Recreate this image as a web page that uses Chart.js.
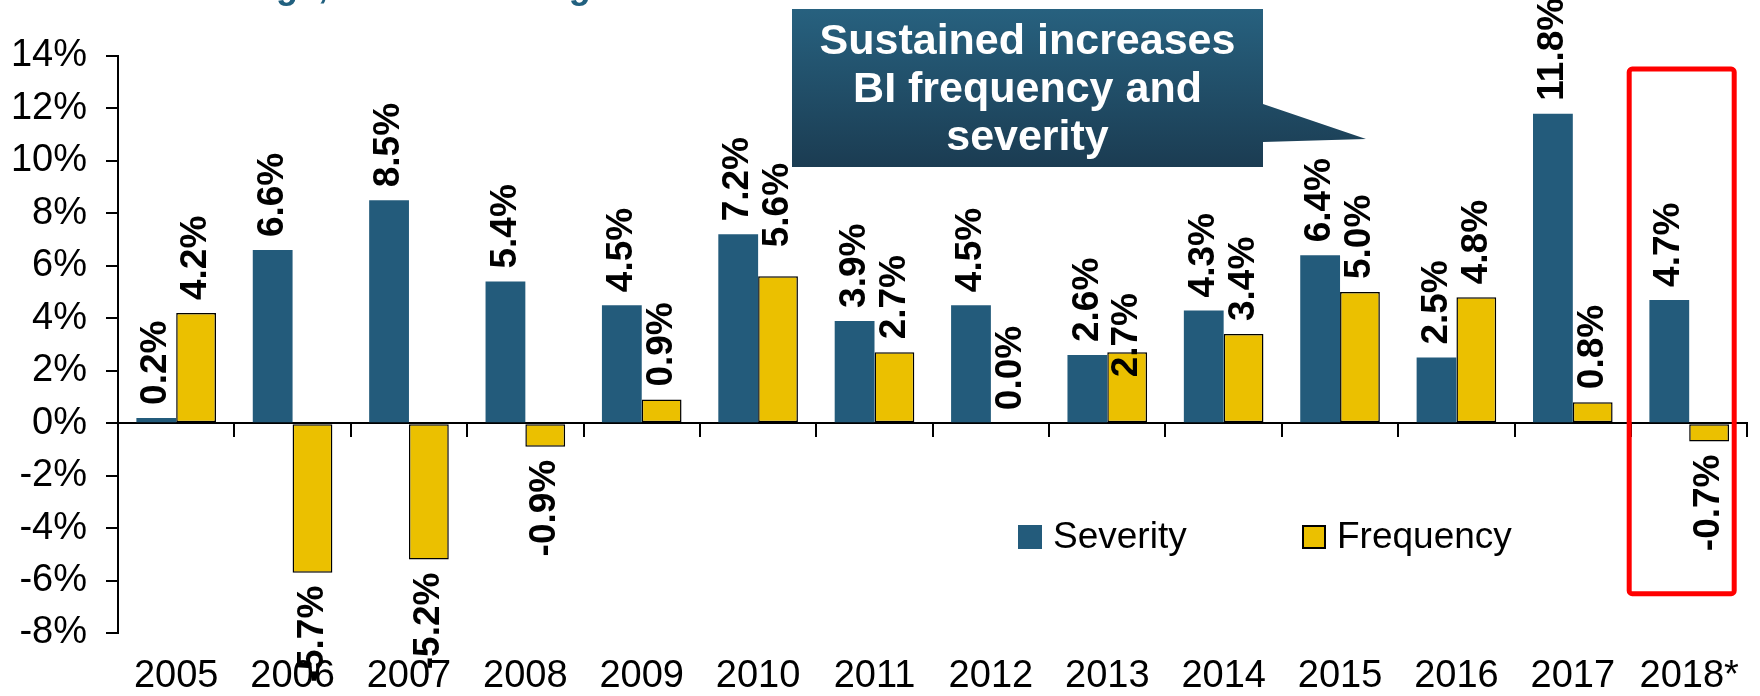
<!DOCTYPE html>
<html>
<head>
<meta charset="utf-8">
<title>BI severity and frequency</title>
<script src="https://cdn.jsdelivr.net/npm/chart.js@4.4.1/dist/chart.umd.min.js"></script>
<style>
    body { margin: 0; background: #fff; }
    #chart_container { width: 1760px; height: 696px; }
</style>
</head>
<body>
<div id="chart_container"><canvas id="canvas1" width="1760" height="696"></canvas></div>
<script>
const years = ['2005', '2006', '2007', '2008', '2009', '2010', '2011', '2012', '2013', '2014', '2015', '2016', '2017', '2018*']
const severity = [0.2, 6.6, 8.5, 5.4, 4.5, 7.2, 3.9, 4.5, 2.6, 4.3, 6.4, 2.5, 11.8, 4.7]
const frequency = [4.2, -5.7, -5.2, -0.9, 0.9, 5.6, 2.7, 0.0, 2.7, 3.4, 5.0, 4.8, 0.8, -0.7]
const y_ticks = [-8, -6, -4, -2, 0, 2, 4, 6, 8, 10, 12, 14]
const series_names = ['Severity', 'Frequency']
const callout_lines = ['Sustained increases', 'BI frequency and', 'severity']
const title_text = 'Annual % Change, Annual Average'

const FONT = "'Liberation Sans', Arial, sans-serif"
const SEVERITY_COLOR = '#235B7B'
const FREQUENCY_COLOR = '#EBC000'

// rotated % labels at the end of every bar
const valueLabels = {
    id: 'valueLabels',
    afterDatasetsDraw: (chart, args, opts) => {
        let ctx = chart.ctx
        ctx.save()
        ctx.font = `bold ${opts.size}px ${FONT}`
        ctx.fillStyle = '#000'
        ctx.textBaseline = 'middle'
        chart.data.datasets.forEach((ds, i) => {
            chart.getDatasetMeta(i).data.forEach((bar, j) => {
                let v = ds.data[j]
                let shift = opts.nudge[i + ':' + j] || 0
                ctx.save()
                ctx.translate(bar.x, bar.y)
                ctx.rotate(-Math.PI / 2)
                ctx.textAlign = v < 0 ? 'right' : 'left'
                ctx.fillText(v.toFixed(1) + '%', (v < 0 ? -opts.gap : opts.gap) + shift, 0)
                ctx.restore()
            })
        })
        ctx.restore()
    }
}

// swatch legend sitting inside the plot
const boxLegend = {
    id: 'boxLegend',
    afterDraw: (chart, args, opts) => {
        let ctx = chart.ctx
        ctx.save()
        ctx.font = `${opts.size}px ${FONT}`
        ctx.textBaseline = 'middle'
        ctx.textAlign = 'left'
        chart.data.datasets.forEach((ds, i) => {
            let x = opts.x[i]
            ctx.fillStyle = ds.backgroundColor
            ctx.fillRect(x, opts.y - 12, 24, 24)
            if (ds.borderWidth) {
                ctx.lineWidth = 2
                ctx.strokeStyle = '#000'
                ctx.strokeRect(x + 1, opts.y - 11, 22, 22)
            }
            ctx.fillStyle = '#000'
            ctx.fillText(ds.label, x + 35, opts.y + 1)
        })
        ctx.restore()
    }
}

// red frame around the partial year, title line and the speech bubble
const overlays = {
    id: 'overlays',
    afterDraw: (chart, args, opts) => {
        let ctx = chart.ctx
        let xs = chart.scales.x
        let ys = chart.scales.y
        ctx.save()

        ctx.font = `bold 36px ${FONT}`
        ctx.fillStyle = '#21607F'
        ctx.textAlign = 'left'
        ctx.textBaseline = 'alphabetic'
        ctx.fillText(title_text, 12, -2)

        let cx = xs.getPixelForValue(years.length - 1)
        let top = ys.getPixelForValue(13.5)
        let bottom = ys.getPixelForValue(-6.5)
        ctx.strokeStyle = '#FF0000'
        ctx.lineWidth = 5
        ctx.lineJoin = 'round'
        ctx.beginPath()
        ctx.roundRect(cx - 60, top, 105, bottom - top, 3)
        ctx.stroke()

        let b = opts.box
        let p = opts.pointer
        let grad = ctx.createLinearGradient(0, b.top, 0, b.bottom)
        grad.addColorStop(0, '#27617F')
        grad.addColorStop(1, '#1B3C52')
        ctx.fillStyle = grad
        ctx.beginPath()
        ctx.moveTo(b.left, b.top)
        ctx.lineTo(b.right, b.top)
        ctx.lineTo(b.right, p.from)
        ctx.lineTo(p.tipX, p.tipY)
        ctx.lineTo(b.right, p.to)
        ctx.lineTo(b.right, b.bottom)
        ctx.lineTo(b.left, b.bottom)
        ctx.closePath()
        ctx.fill()

        ctx.font = `bold 43px ${FONT}`
        ctx.fillStyle = '#fff'
        ctx.textAlign = 'center'
        ctx.textBaseline = 'middle'
        let mid = (b.left + b.right) / 2
        callout_lines.forEach((line, i) => {
            ctx.fillText(line, mid, b.top + 33 + i * 48)
        })
        ctx.restore()
    }
}

const generateChart = (canvas_id) => {
    let canvas = document.getElementById(canvas_id)

    new Chart(canvas, {
        type: 'bar',
        data: {
            labels: years,
            datasets: [
                {
                    label: series_names[0],
                    data: severity,
                    backgroundColor: SEVERITY_COLOR,
                    borderWidth: 0,
                    categoryPercentage: 0.684,
                    barPercentage: 1,
                },
                {
                    label: series_names[1],
                    data: frequency,
                    backgroundColor: FREQUENCY_COLOR,
                    borderColor: '#000',
                    borderWidth: 1.5,
                    borderSkipped: false,
                    categoryPercentage: 0.684,
                    barPercentage: 1,
                }
            ],
        },
        options: {
            responsive: false,
            animation: false,
            layout: { padding: { top: 56, right: 4, bottom: 0, left: 0 } },
            scales: {
                x: {
                    grid: { display: false, drawTicks: false },
                    border: { display: false },
                    ticks: {
                        color: '#000',
                        font: { size: 38, family: FONT },
                        padding: 21,
                        maxRotation: 0,
                        autoSkip: false,
                    },
                    afterFit: (s) => { s.height = 63 }
                },
                // zero line with boundary ticks
                x2: {
                    type: 'category',
                    axis: 'x',
                    position: { y: 0 },
                    offset: true,
                    ticks: { display: false },
                    grid: { drawOnChartArea: false, offset: true, tickLength: 13, color: '#000', lineWidth: 2 },
                    border: { color: '#000', width: 2 },
                },
                y: {
                    min: y_ticks[0],
                    max: y_ticks[y_ticks.length - 1],
                    afterBuildTicks: (s) => { s.ticks = y_ticks.map(v => ({ value: v })) },
                    ticks: {
                        color: '#000',
                        font: { size: 38, family: FONT },
                        padding: 19,
                        callback: (v) => v + '%',
                    },
                    grid: { drawOnChartArea: false, tickLength: 12, color: '#000', lineWidth: 2 },
                    border: { color: '#000', width: 2 },
                    afterFit: (s) => { s.width = 118 }
                }
            },
            plugins: {
                legend: { display: false },
                tooltip: { enabled: false },
                valueLabels: { size: 37, gap: 13, nudge: { '1:8': -38, '1:5': 16 } },
                boxLegend: { size: 37, x: [1018, 1302], y: 537 },
                overlays: {
                    box: { left: 792, top: 9, right: 1263, bottom: 167 },
                    pointer: { from: 104, to: 142, tipX: 1366, tipY: 139 },
                },
            }
        },
        plugins: [valueLabels, boxLegend, overlays]
    })
}

generateChart('canvas1')
</script>
</body>
</html>
